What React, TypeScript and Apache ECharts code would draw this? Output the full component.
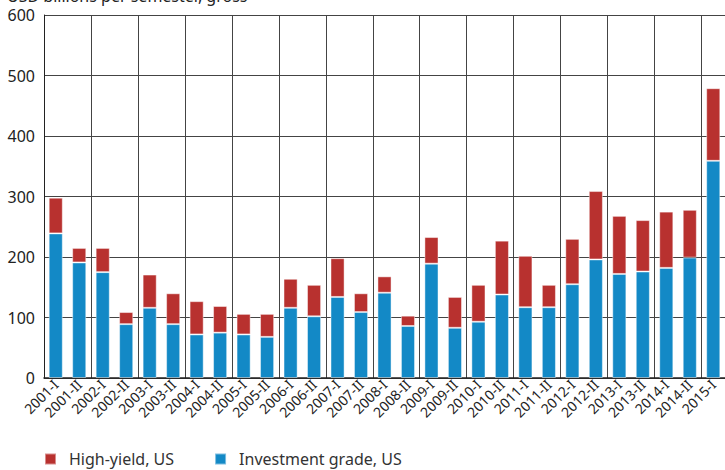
import React, { useEffect, useRef } from "react";
import * as echarts from "echarts";

const categories = [
  "2001-I", "2001-II", "2002-I", "2002-II", "2003-I", "2003-II", "2004-I", "2004-II",
  "2005-I", "2005-II", "2006-I", "2006-II", "2007-I", "2007-II", "2008-I", "2008-II",
  "2009-I", "2009-II", "2010-I", "2010-II", "2011-I", "2011-II", "2012-I", "2012-II",
  "2013-I", "2013-II", "2014-I", "2014-II", "2015-I",
];

const investmentGrade = [
  239, 191, 175, 89, 116, 89, 72, 75, 72, 68, 116, 102, 134, 109, 141, 86,
  189, 83, 93, 138, 117, 117, 155, 196, 172, 176, 182, 199, 359,
];

const highYield = [
  59, 24, 40, 20, 55, 51, 55, 44, 34, 38, 48, 52, 64, 31, 27, 17,
  44, 51, 61, 89, 85, 37, 75, 113, 96, 85, 93, 79, 120,
];

const yTicks = { min: 0, max: 600, interval: 100 };
const titleText = "USD billions per semester, gross";

const FONT = "'Noto Sans', 'Open Sans', sans-serif";

export default function App() {
  const ref = useRef<HTMLDivElement>(null);
  useEffect(() => {
    if (!ref.current) return;
    const chart = echarts.init(ref.current, null, { renderer: "svg" });
    chart.setOption({
      animation: false,
      textStyle: { fontFamily: FONT },
      graphic: [
        {
          type: "text",
          left: 7,
          top: -12,
          style: { text: titleText, font: `16px ${FONT}`, fill: "#222" },
        },
      ],
      legend: {
        left: 44,
        top: 451,
        padding: 0,
        itemWidth: 11,
        itemHeight: 11,
        itemGap: 40,
        icon: "rect",
        textStyle: { fontSize: 16, color: "#333", fontFamily: FONT, padding: [0, 0, 0, 8] },
        data: ["High-yield, US", "Investment grade, US"],
      },
      grid: { left: 44, top: 15, width: 688, bottom: 92 },
      xAxis: {
        type: "category",
        data: categories,
        axisLine: { show: true, lineStyle: { color: "#222", width: 1.5 } },
        axisTick: { show: false },
        axisLabel: {
          interval: 0,
          rotate: 45,
          fontSize: 14,
          color: "#222",
          margin: 4,
          fontFamily: FONT,
        },
        splitLine: { show: true, interval: 1, lineStyle: { color: "#444", width: 1 } },
      },
      yAxis: {
        type: "value",
        min: yTicks.min,
        max: yTicks.max,
        interval: yTicks.interval,
        axisLine: { show: true, lineStyle: { color: "#222", width: 1 } },
        axisTick: { show: false },
        axisLabel: { fontSize: 16, color: "#222", margin: 9, fontFamily: FONT },
        splitLine: { show: true, lineStyle: { color: "#444", width: 1 } },
      },
      series: [
        {
          name: "Investment grade, US",
          type: "bar",
          stack: "total",
          data: investmentGrade,
          barWidth: "60%",
          itemStyle: { color: "#1389C6", borderColor: "rgba(255,255,255,0.45)", borderWidth: 1 },
        },
        {
          name: "High-yield, US",
          type: "bar",
          stack: "total",
          data: highYield,
          barWidth: "60%",
          itemStyle: { color: "#B8312F", borderColor: "rgba(255,255,255,0.45)", borderWidth: 1 },
        },
      ],
    });
    return () => chart.dispose();
  }, []);
  return <div ref={ref} style={{ width: 725, height: 470, position: "absolute", left: 0, top: 0 }} />;
}
